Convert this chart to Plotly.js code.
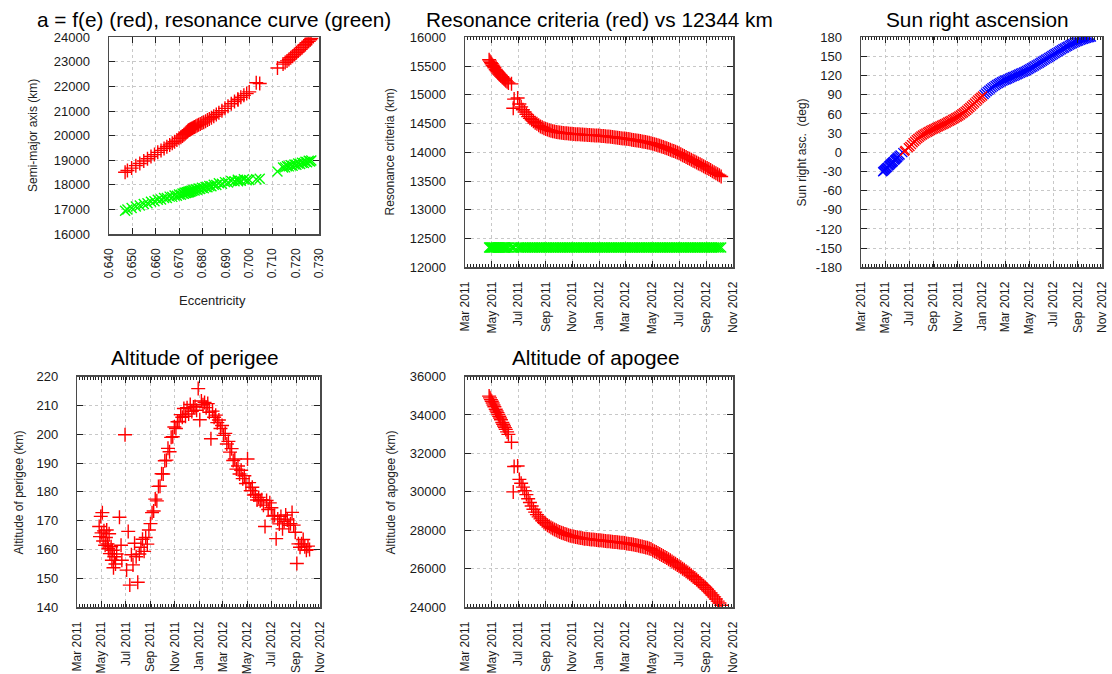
<!DOCTYPE html>
<html>
<head>
<meta charset="utf-8">
<script src="https://cdn.plot.ly/plotly-3.0.1.min.js"></script>
<style>
  html, body { margin: 0; padding: 0; background: #ffffff; }
  #chart { width: 1112px; height: 674px; }
</style>
</head>
<body>
<div id="chart"></div>
<script>
// Observation epochs (shared by all time plots)
const obsDates = [
  '2011-04-25','2011-04-27','2011-04-29','2011-05-01','2011-05-03','2011-05-05','2011-05-07',
  '2011-05-10','2011-05-12','2011-05-14','2011-05-16','2011-05-18','2011-05-20','2011-05-22',
  '2011-05-25','2011-05-27','2011-05-29','2011-05-31','2011-06-02','2011-06-05','2011-06-08',
  '2011-06-15','2011-06-19','2011-06-21','2011-06-29',
  '2011-07-03','2011-07-07','2011-07-11','2011-07-15','2011-07-19','2011-07-23','2011-07-27','2011-07-31',
  '2011-08-04','2011-08-08','2011-08-12','2011-08-16','2011-08-20','2011-08-24','2011-08-28',
  '2011-09-01','2011-09-05','2011-09-09','2011-09-13','2011-09-17','2011-09-21','2011-09-25','2011-09-29',
  '2011-10-03','2011-10-07','2011-10-11','2011-10-15','2011-10-19','2011-10-23','2011-10-27','2011-10-31',
  '2011-11-04','2011-11-08','2011-11-12','2011-11-16','2011-11-20','2011-11-24','2011-11-28',
  '2011-12-02','2011-12-06','2011-12-10','2011-12-14','2011-12-18','2011-12-22','2011-12-26','2011-12-30',
  '2012-01-03','2012-01-07','2012-01-11','2012-01-15','2012-01-19','2012-01-23','2012-01-27','2012-01-31',
  '2012-02-04','2012-02-08','2012-02-12','2012-02-16','2012-02-20','2012-02-24','2012-02-28',
  '2012-03-03','2012-03-07','2012-03-11','2012-03-15','2012-03-19','2012-03-23','2012-03-27','2012-03-31',
  '2012-04-04','2012-04-08','2012-04-12','2012-04-16','2012-04-20','2012-04-24','2012-04-28',
  '2012-05-02','2012-05-06','2012-05-10','2012-05-14','2012-05-18','2012-05-22','2012-05-26','2012-05-30',
  '2012-06-03','2012-06-07','2012-06-11','2012-06-15','2012-06-19','2012-06-23','2012-06-27',
  '2012-07-01','2012-07-05','2012-07-09','2012-07-13','2012-07-17','2012-07-21','2012-07-25','2012-07-29',
  '2012-08-02','2012-08-06','2012-08-10','2012-08-14','2012-08-18','2012-08-22','2012-08-26','2012-08-30',
  '2012-09-03','2012-09-07','2012-09-11','2012-09-15','2012-09-19','2012-09-23','2012-09-27',
  '2012-10-01','2012-10-05'
];

// Altitude of perigee (km)
const perigeeKm = [
  168.0,164.5,171.5,165.8,172.8,163.0,166.5,
  161.5,164.2,166.8,162.0,160.3,165.5,158.6,
  161.0,156.3,159.8,153.7,157.5,155.0,158.5,
  171.2,161.5,156.3,199.8,
  152.9,166.3,147.7,158.2,154.7,162.2,157.5,148.7,
  158.5,160.8,163.6,159.4,164.2,161.9,166.8,
  169.0,172.8,173.4,177.5,176.9,181.9,182.0,186.3,
  186.2,190.8,191.0,195.1,193.9,198.9,199.1,202.5,
  202.0,204.3,204.4,206.8,205.9,208.9,206.2,
  209.2,207.0,210.3,207.9,209.4,209.6,208.3,215.8,
  205.0,211.5,210.2,211.0,209.2,210.6,207.6,198.4,
  208.0,205.9,206.6,204.0,204.9,202.0,203.0,
  199.6,200.3,196.6,197.5,193.8,195.0,190.9,191.4,
  187.9,189.0,186.2,187.5,184.6,185.6,182.9,
  191.4,183.2,180.4,181.6,178.9,179.1,177.2,178.1,
  176.9,177.3,175.4,168.0,177.0,173.9,176.2,
  174.5,171.6,171.8,163.8,170.6,168.9,171.5,167.2,
  169.7,172.0,170.3,168.4,169.0,172.9,168.5,166.0,
  155.2,162.0,160.8,162.0,163.5,161.0,159.8,
  161.2,160.0
];

// Altitude of apogee (km)
const apogeeKm = [
  34980,34890,34800,34710,34620,34520,34430,
  34300,34210,34120,34030,33930,33840,33750,
  33610,33520,33430,33340,33250,33120,32990,
  32580,30000,31320,31350,
  30650,30450,30250,30060,29860,29640,29450,29270,
  29100,28950,28820,28700,28600,28500,28410,
  28340,28270,28210,28150,28100,28050,28000,27960,
  27920,27880,27850,27810,27780,27750,27720,27700,
  27680,27660,27640,27620,27600,27590,27570,
  27560,27550,27540,27530,27520,27510,27500,27490,
  27480,27470,27460,27450,27440,27430,27420,27410,
  27400,27390,27380,27370,27360,27350,27340,
  27320,27310,27290,27280,27260,27240,27220,27200,
  27180,27160,27140,27110,27090,27060,27030,
  26970,26920,26870,26820,26770,26720,26670,26610,
  26560,26500,26440,26380,26320,26260,26200,
  26140,26080,26010,25950,25880,25810,25740,25670,
  25590,25520,25440,25360,25280,25200,25120,25030,
  24940,24840,24740,24640,24540,24430,24320,
  24220,24110
];

// Resonance criteria (km)
const resonanceKm = [
  15610,15585,15560,15540,15515,15495,15470,
  15440,15420,15400,15380,15360,15345,15325,
  15305,15290,15275,15260,15245,15225,15205,
  15190,14765,14925,14945,
  14840,14790,14740,14700,14660,14620,14590,14565,
  14540,14515,14495,14470,14450,14435,14420,
  14405,14395,14385,14375,14365,14360,14355,14350,
  14345,14340,14336,14333,14330,14327,14324,14321,
  14318,14316,14314,14312,14310,14308,14306,
  14304,14302,14300,14298,14296,14294,14292,14290,
  14288,14285,14282,14279,14276,14273,14270,14266,
  14262,14258,14254,14250,14246,14242,14238,
  14234,14230,14225,14220,14215,14210,14205,14200,
  14195,14189,14183,14177,14171,14165,14158,
  14150,14141,14132,14122,14112,14102,14091,14080,
  14069,14057,14045,14033,14021,14008,13995,
  13982,13966,13950,13934,13918,13902,13886,13870,
  13854,13838,13822,13806,13790,13774,13758,13742,
  13725,13708,13690,13672,13654,13636,13618,
  13600,13580
];
const RESONANCE_LIMIT_KM = 12344;

// Sun right ascension (deg)
const sunRaDeg = [
  -30.5,-29.3,-28.1,-26.9,-25.7,-24.5,-23.3,
  -21.5,-20.3,-19.1,-17.9,-16.7,-15.5,-14.3,
  -12.5,-11.3,-10.1,-8.9,-7.7,-5.9,-4.1,
  -0.5,1.8,3.0,7.2,
  9.0,12.0,14.8,17.3,19.6,21.7,23.6,25.4,
  27.0,28.5,30.0,31.4,32.7,34.0,35.2,
  36.4,37.6,38.8,40.0,41.2,42.4,43.6,44.8,
  46.0,47.3,48.6,49.9,51.2,52.6,54.0,55.4,
  56.9,58.5,60.2,62.0,63.9,65.9,68.0,
  70.2,72.5,74.9,77.3,79.7,82.0,84.2,86.3,
  88.3,90.6,92.8,95.0,97.1,99.1,101.0,102.8,
  104.5,106.1,107.6,109.0,110.3,111.5,112.6,
  113.7,114.8,115.9,117.0,118.1,119.2,120.3,121.4,
  122.5,123.6,124.7,125.8,127.0,128.2,129.5,
  130.8,132.2,133.6,135.0,136.5,138.0,139.5,141.0,
  142.5,144.0,145.5,147.0,148.5,150.0,151.5,
  153.0,154.5,156.0,157.5,159.0,160.5,162.0,163.4,
  164.8,166.1,167.4,168.7,169.9,171.1,172.2,173.3,
  174.3,175.3,176.2,177.1,177.9,178.6,179.2,
  179.7,180.3
];

// Eccentricity / semi-major axis pairs, and resonant semi-major axis
const eccentricity = [
  0.7267,0.7262,0.7256,0.7249,0.7242,0.7235,0.7227,0.7219,0.7211,0.7203,0.7195,0.7187,0.7179,0.7171,0.7163,0.7155,0.7146,
  0.7122,0.6953,0.7046,0.7031,
  0.7001,0.6990,0.6978,0.6965,0.6952,0.6938,0.6924,0.6910,0.6897,0.6884,0.6871,0.6860,0.6849,0.6839,
  0.6830,0.6822,0.6814,0.6806,0.6798,0.6791,0.6784,0.6778,0.6772,0.6767,0.6762,0.6757,0.6753,0.6749,
  0.6746,0.6743,0.6740,0.6737,0.6734,0.6730,0.6726,0.6721,0.6715,0.6708,0.6700,0.6691,0.6681,0.6671,
  0.6660,0.6648,0.6636,0.6623,0.6609,0.6595,0.6580,0.6565,0.6549,0.6532,0.6515,0.6497,0.6479,0.6469
];
const semiMajorAxisKm = [
  23950,23900,23840,23780,23710,23650,23580,23510,23440,23370,23300,23230,23170,23100,23040,22980,22910,
  22750,21460,22120,22150,
  21780,21710,21640,21560,21480,21390,21300,21200,21110,21010,20930,20860,20790,20730,
  20680,20640,20590,20550,20510,20470,20440,20410,20380,20350,20330,20300,20280,20260,
  20240,20230,20210,20180,20150,20120,20080,20040,19990,19940,19890,19820,19750,19690,
  19620,19550,19480,19400,19320,19230,19150,19060,18970,18870,18780,18680,18580,18510
];
const resonantAxisKm = [
  18990,18950,18980,18920,18940,18890,18900,18850,18870,18820,18830,18780,18800,18750,18760,18710,18700,
  18540,18150,18250,18230,
  18200,18190,18230,18170,18210,18150,18160,18090,18110,18040,18060,17990,18000,17940,
  17950,17900,17910,17860,17880,17830,17850,17800,17820,17770,17790,17750,17760,17720,
  17740,17700,17720,17690,17700,17670,17680,17640,17650,17600,17610,17560,17570,17510,
  17520,17460,17460,17400,17390,17330,17310,17250,17220,17160,17120,17060,17000,16950
];

const raTickValues = [-180,-150,-120,-90,-60,-30,0,30,60,90,120,150,180];

// ---------------------------------------------------------------------------
const W = 1112, H = 674;
const FONT = '"Liberation Sans", Arial, sans-serif';
const RED = '#ff0000', GREEN = '#00ff00', BLUE = '#0000ff';
const INK = '#1a1a1a';

const xDom = (l, r) => [l / W, r / W];
const yDom = (t, b) => [1 - b / H, 1 - t / H];

const baseAxis = {
  showline: true, linecolor: '#4a4a4a', linewidth: 1.5, mirror: 'ticks',
  ticks: 'inside', ticklen: 6, tickwidth: 1, tickcolor: '#222',
  showgrid: true, gridcolor: '#c8c8c8', gridwidth: 1, griddash: '3px,3px',
  zeroline: false, fixedrange: true,
  tickfont: { family: FONT, size: 13, color: INK }
};

function valueYAxis(domain, anchor, range, dtick, extra) {
  return Object.assign({}, baseAxis, {
    domain, anchor, range, dtick, tick0: range[0], tickformat: 'd',
    ticklabelstandoff: 15
  }, extra || {});
}

function dateXAxis(domain, anchor) {
  return Object.assign({}, baseAxis, {
    type: 'date', domain, anchor,
    range: ['2011-03-01', '2012-11-01'],
    tick0: '2011-03-01', dtick: 'M2', tickformat: '%b %Y',
    tickangle: -90, ticklabelstandoff: 8,
    tickfont: { family: FONT, size: 12, color: INK },
    minor: { ticks: 'inside', ticklen: 3, tickwidth: 1, tickcolor: '#222',
             dtick: 7 * 86400000, showgrid: false }
  });
}

function markers(symbol, color, size) {
  return { symbol, size, color, line: { color, width: 1.4 } };
}

const inFirstQuadrant = sunRaDeg.map(v => v >= 0 && v <= 90);
const pick = (arr, keep) => arr.filter((_, i) => inFirstQuadrant[i] === keep);

const traces = [
  // a = f(e) and resonance curve
  { type: 'scatter', mode: 'markers', x: eccentricity, y: semiMajorAxisKm,
    xaxis: 'x', yaxis: 'y', marker: markers('cross-thin-open', RED, 10) },
  { type: 'scatter', mode: 'markers', x: eccentricity, y: resonantAxisKm,
    xaxis: 'x', yaxis: 'y', marker: markers('x-thin-open', GREEN, 10) },
  // resonance criteria vs fixed limit
  { type: 'scatter', mode: 'markers', x: obsDates, y: obsDates.map(() => RESONANCE_LIMIT_KM),
    xaxis: 'x2', yaxis: 'y2', marker: markers('x-thin-open', GREEN, 10) },
  { type: 'scatter', mode: 'markers', x: obsDates, y: resonanceKm,
    xaxis: 'x2', yaxis: 'y2', marker: markers('cross-thin-open', RED, 10) },
  // sun right ascension
  { type: 'scatter', mode: 'markers', x: pick(obsDates, false), y: pick(sunRaDeg, false),
    xaxis: 'x3', yaxis: 'y3', marker: markers('x-thin-open', BLUE, 9) },
  { type: 'scatter', mode: 'markers', x: pick(obsDates, true), y: pick(sunRaDeg, true),
    xaxis: 'x3', yaxis: 'y3', marker: markers('x-thin-open', RED, 9) },
  // perigee and apogee
  { type: 'scatter', mode: 'markers', x: obsDates, y: perigeeKm,
    xaxis: 'x4', yaxis: 'y4', marker: markers('cross-thin-open', RED, 10) },
  { type: 'scatter', mode: 'markers', x: obsDates, y: apogeeKm,
    xaxis: 'x5', yaxis: 'y5', marker: markers('cross-thin-open', RED, 10) }
];

function label(text, px, py, size, angle) {
  return {
    text, xref: 'paper', yref: 'paper', x: px / W, y: 1 - py / H,
    xanchor: 'center', yanchor: 'middle', showarrow: false,
    textangle: angle || 0,
    font: { family: FONT, size, color: size >= 15 ? '#000' : '#222' }
  };
}

const TITLE_SIZE = 20.8;

const layout = {
  width: W, height: H,
  margin: { l: 0, r: 0, t: 0, b: 0 },
  paper_bgcolor: '#ffffff', plot_bgcolor: '#ffffff',
  showlegend: false,
  font: { family: FONT, color: INK },

  xaxis: Object.assign({}, baseAxis, {
    domain: xDom(109, 319), anchor: 'y', range: [0.64, 0.73], tick0: 0.64, dtick: 0.01,
    tickformat: '.3f', tickangle: -90, ticklabelstandoff: 8,
    tickfont: { family: FONT, size: 12, color: INK }
  }),
  yaxis: valueYAxis(yDom(37.3, 234), 'x', [16000, 24000], 1000),

  xaxis2: dateXAxis(xDom(465, 733), 'y2'),
  yaxis2: valueYAxis(yDom(37.3, 267.3), 'x2', [12000, 16000], 500),

  xaxis3: dateXAxis(xDom(861, 1102), 'y3'),
  yaxis3: valueYAxis(yDom(37.3, 267.3), 'x3', [-180, 180], 30, {
    tickmode: 'array', tickvals: raTickValues, ticktext: raTickValues.map(String)
  }),

  xaxis4: dateXAxis(xDom(77.3, 320.3), 'y4'),
  yaxis4: valueYAxis(yDom(376.5, 607.3), 'x4', [140, 220], 10),

  xaxis5: dateXAxis(xDom(465, 733), 'y5'),
  yaxis5: valueYAxis(yDom(376.5, 607.3), 'x5', [24000, 36000], 2000),

  annotations: [
    label('a = f(e) (red), resonance curve (green)', 213.5, 19.5, TITLE_SIZE),
    label('Resonance criteria (red) vs 12344 km', 599, 19.5, TITLE_SIZE),
    label('Sun right ascension', 977.5, 19.5, TITLE_SIZE),
    label('Altitude of perigee', 195, 357.5, TITLE_SIZE),
    label('Altitude of apogee', 596, 357.5, TITLE_SIZE),

    label('Semi-major axis (km)', 32.5, 135.5, 12, -90),
    label('Eccentricity', 212.5, 300, 13, 0),
    label('Resonance criteria (km)', 389, 152.5, 12, -90),
    label('Sun right asc.  (deg)', 801, 152.5, 12, -90),
    label('Altitude of perigee (km)', 18.5, 493, 12, -90),
    label('Altitude of apogee (km)', 390.5, 493, 12, -90)
  ]
};

Plotly.newPlot('chart', traces, layout, { staticPlot: true, displayModeBar: false });
</script>
</body>
</html>
